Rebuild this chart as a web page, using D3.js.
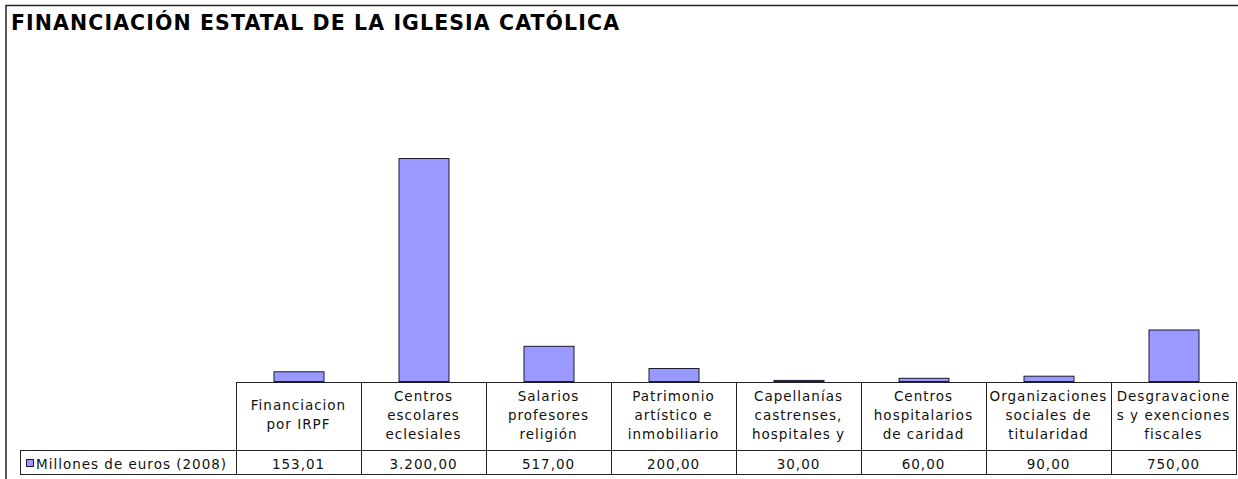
<!DOCTYPE html>
<html><head><meta charset="utf-8">
<script src="https://cdn.jsdelivr.net/npm/d3@7"></script>
<style>html,body{margin:0;padding:0;background:#fff;}svg{display:block;}</style>
</head><body>
<svg id="c" width="1238" height="479"></svg>
<script>
const title = "FINANCIACIÓN ESTATAL DE LA IGLESIA CATÓLICA";
const seriesName = "Millones de euros (2008)";
const categories = [
  ["Financiacion", "por IRPF"],
  ["Centros", "escolares", "eclesiales"],
  ["Salarios", "profesores", "religión"],
  ["Patrimonio", "artístico e", "inmobiliario"],
  ["Capellanías", "castrenses,", "hospitales y"],
  ["Centros", "hospitalarios", "de caridad"],
  ["Organizaciones", "sociales de", "titularidad"],
  ["Desgravacione", "s y exenciones", "fiscales"]
];
const values = [153.01, 3200, 517, 200, 30, 60, 90, 750];
const valueLabels = ["153,01", "3.200,00", "517,00", "200,00", "30,00", "60,00", "90,00", "750,00"];

const svg = d3.select("#c");
const font = "'DejaVu Sans', Verdana, sans-serif";

// outer frame
svg.append("rect").attr("x", 6).attr("y", 5.5).attr("width", 1240).attr("height", 480)
  .attr("fill", "none").attr("stroke", "#222").attr("stroke-width", 1.5);

svg.append("text").attr("x", 11).attr("y", 30)
  .attr("font-family", font).attr("font-weight", "bold").attr("font-size", 20.5)
  .attr("textLength", 608).attr("lengthAdjust", "spacing")
  .attr("fill", "#000").text(title);

const x = d3.scaleBand().domain(d3.range(categories.length)).range([236, 1236]).padding(0);
const y = d3.scaleLinear().domain([0, 3500]).range([382, 137]);

const barW = x.bandwidth() * 0.4;
svg.append("g").selectAll("rect").data(values).join("rect")
  .attr("x", (d, i) => x(i) + (x.bandwidth() - barW) / 2 + 0.5)
  .attr("y", d => y(d) + 0.5)
  .attr("width", barW)
  .attr("height", d => Math.max(0, y(0) - y(d) - 1))
  .attr("fill", "#9999FF").attr("stroke", "#1a1a33").attr("stroke-width", 1);

// table
const rowTop = 382, rowMid = 450, rowBot = 474, legL = 20;
const g = svg.append("g").attr("stroke", "#222").attr("stroke-width", 1).attr("shape-rendering", "crispEdges");
g.append("line").attr("x1", 236).attr("x2", 1237).attr("y1", rowTop).attr("y2", rowTop);
g.append("line").attr("x1", legL).attr("x2", 1237).attr("y1", rowMid).attr("y2", rowMid);
g.append("line").attr("x1", legL).attr("x2", 1237).attr("y1", rowBot).attr("y2", rowBot);
g.append("line").attr("x1", legL).attr("x2", legL).attr("y1", rowMid).attr("y2", rowBot);
const bounds = d3.range(categories.length).map(i => x(i)).concat([1236]);
g.selectAll(".v").data(bounds).join("line")
  .attr("x1", d => d).attr("x2", d => d).attr("y1", rowTop).attr("y2", rowBot);

// category labels
const fs = 13.5, ls = 1.0;
const labG = svg.append("g").attr("font-family", font).attr("font-size", fs).attr("fill", "#111")
  .attr("text-anchor", "middle").attr("letter-spacing", ls);
categories.forEach((lines, i) => {
  const cx = x(i) + x.bandwidth() / 2;
  const lh = 19;
  const y0 = 419.5 - (lines.length - 1) * lh / 2;
  lines.forEach((t, j) => {
    labG.append("text").attr("x", cx).attr("y", y0 + j * lh).text(t);
  });
});
// values
labG.selectAll(".val").data(valueLabels).join("text")
  .attr("x", (d, i) => x(i) + x.bandwidth() / 2).attr("y", 469).text(d => d);

// legend
svg.append("rect").attr("x", 26.5).attr("y", 459.5).attr("width", 7).attr("height", 7)
  .attr("fill", "#9999FF").attr("stroke", "#1a1a33").attr("stroke-width", 1);
svg.append("text").attr("x", 36).attr("y", 469).attr("font-family", font).attr("font-size", fs)
  .attr("letter-spacing", ls).attr("fill", "#111").text(seriesName);
</script>
</body></html>
